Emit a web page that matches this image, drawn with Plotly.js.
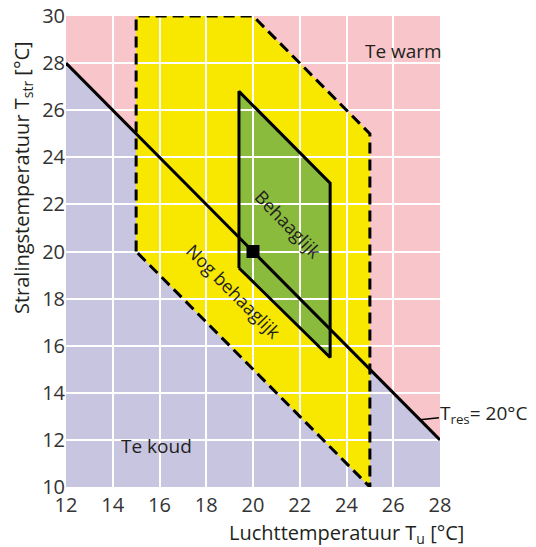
<!DOCTYPE html>
<html>
<head>
<meta charset="utf-8">
<script src="https://cdn.plot.ly/plotly-3.0.1.min.js"></script>
<style>html,body{margin:0;padding:0;background:#fff;}#chart{width:536px;height:547px;}</style>
</head>
<body>
<div id="chart"></div>
<script>
// Axis ticks
const xTicks = [12, 14, 16, 18, 20, 22, 24, 26, 28];
const yTicks = [10, 12, 14, 16, 18, 20, 22, 24, 26, 28, 30];
// Region: te warm (above Tres = 20 line)
const warmX = [12, 12, 28, 28];
const warmY = [28, 30, 30, 12];
// Region: te koud (below Tres = 20 line)
const koudX = [12, 12, 28, 28];
const koudY = [10, 28, 12, 10];
// Region: nog behaaglijk (dashed polygon)
const nogX = [15, 15, 20, 25, 25, 15];
const nogY = [20, 30, 30, 25, 10, 20];
// Region: behaaglijk (solid polygon)
const behX = [19.4, 19.4, 23.3, 23.3, 19.4];
const behY = [19.3, 26.8, 22.9, 15.5, 19.3];
// Line Tres = 20 °C
const tresX = [12, 28];
const tresY = [28, 12];
// Design point
const pointX = [20];
const pointY = [20];

function pathOf(xs, ys) {
  return xs.map((x, i) => (i === 0 ? 'M' : 'L') + x + ',' + ys[i]).join(' ') + ' Z';
}

const FONT = 'Open Sans, Liberation Sans, sans-serif';
const TXT = '#231f20';

const traces = [
  {x: nogX, y: nogY, mode: 'lines', line: {color: '#000', width: 3, dash: '11px,6px'}, hoverinfo: 'skip', cliponaxis: false},
  {x: behX, y: behY, mode: 'lines', line: {color: '#000', width: 3}, hoverinfo: 'skip', cliponaxis: false},
  {x: tresX, y: tresY, mode: 'lines', line: {color: '#000', width: 3}, hoverinfo: 'skip', cliponaxis: false},
  {x: pointX, y: pointY, mode: 'markers', marker: {symbol: 'square', size: 13, color: '#000'}, hoverinfo: 'skip', cliponaxis: false}
];

const shapes = [
  {type: 'path', xref: 'x', yref: 'y', path: pathOf(warmX, warmY), fillcolor: '#f8c6ca', line: {width: 0}, layer: 'below'},
  {type: 'path', xref: 'x', yref: 'y', path: pathOf(koudX, koudY), fillcolor: '#c8c5e0', line: {width: 0}, layer: 'below'},
  {type: 'path', xref: 'x', yref: 'y', path: pathOf(nogX, nogY), fillcolor: '#f8e800', line: {width: 0}, layer: 'below'},
  {type: 'path', xref: 'x', yref: 'y', path: pathOf(behX, behY), fillcolor: '#8bbb3d', line: {width: 0}, layer: 'below'}
];

const annotations = [
  {x: 26.42, y: 28.51, xref: 'x', yref: 'y', text: 'Te warm', showarrow: false, font: {family: FONT, size: 19, color: TXT}},
  {x: 15.89, y: 11.74, xref: 'x', yref: 'y', text: 'Te koud', showarrow: false, font: {family: FONT, size: 19, color: TXT}},
  {x: 21.5, y: 21.15, xref: 'x', yref: 'y', text: 'Behaaglijk', textangle: 46, showarrow: false, font: {family: FONT, size: 18, color: TXT}},
  {x: 19.17, y: 18.34, xref: 'x', yref: 'y', text: 'Nog behaaglijk', textangle: 45, showarrow: false, font: {family: FONT, size: 18, color: TXT}},
  {x: 27.14, y: 12.86, xref: 'x', yref: 'y', text: 'T<sub>res</sub>= 20°C', showarrow: true, arrowhead: 0, arrowwidth: 1.5, arrowcolor: '#000', ax: 64, ay: -6, font: {family: FONT, size: 19, color: TXT}},
  {x: 0.751, y: -0.099, xref: 'paper', yref: 'paper', text: 'Luchttemperatuur T<sub>u</sub> [°C]', showarrow: false, xanchor: 'center', yanchor: 'middle', font: {family: FONT, size: 20, color: TXT}},
  {x: -0.1176, y: 0.656, xref: 'paper', yref: 'paper', text: 'Stralingstemperatuur T<sub>str</sub> [°C]', textangle: -90, showarrow: false, xanchor: 'center', yanchor: 'middle', font: {family: FONT, size: 20, color: TXT}}
];

const layout = {
  width: 536, height: 547,
  margin: {l: 66, r: 96, t: 16, b: 60, pad: 0},
  paper_bgcolor: '#ffffff', plot_bgcolor: 'rgba(0,0,0,0)',
  showlegend: false,
  font: {family: FONT, color: TXT},
  xaxis: {range: [12, 28], tickvals: xTicks, ticktext: xTicks.map(String), showgrid: true, gridcolor: '#ffffff', gridwidth: 2,
          zeroline: false, showline: false, ticks: '', ticklabelstandoff: 4, tickfont: {family: FONT, size: 20, color: '#333'}, fixedrange: true},
  yaxis: {range: [10, 30], tickvals: yTicks, ticktext: yTicks.map(String), showgrid: true, gridcolor: '#ffffff', gridwidth: 2,
          zeroline: false, showline: false, ticks: '', ticklabelstandoff: 0, tickfont: {family: FONT, size: 20, color: '#333'}, fixedrange: true},
  shapes: shapes,
  annotations: annotations
};

Plotly.newPlot('chart', traces, layout, {displayModeBar: false, staticPlot: true});
</script>
</body>
</html>
